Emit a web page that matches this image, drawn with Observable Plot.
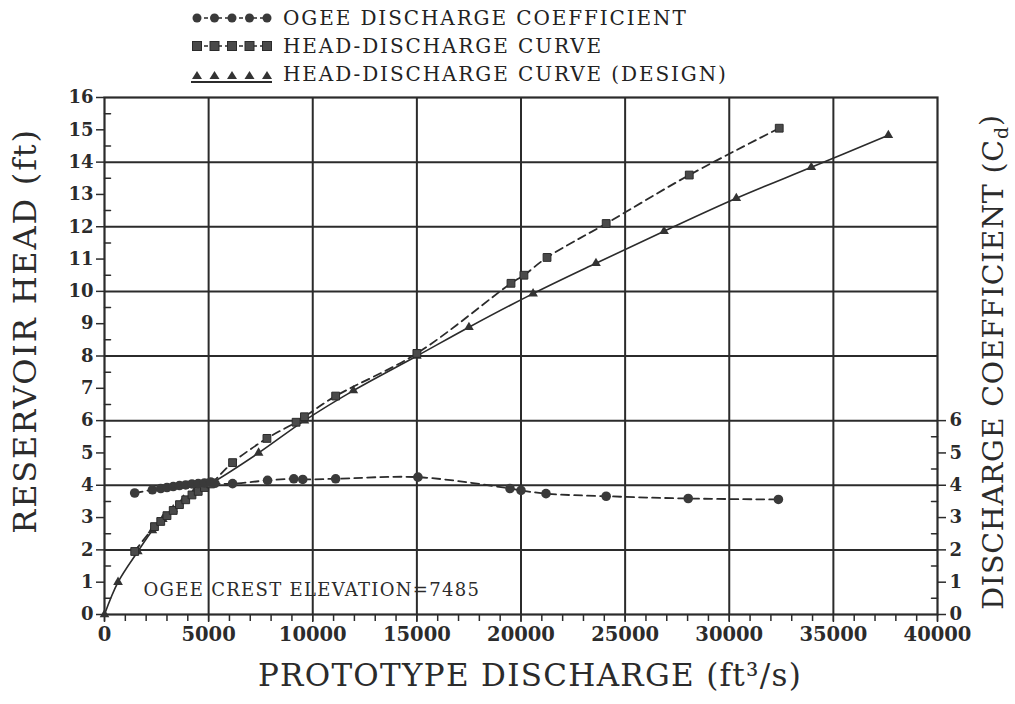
<!DOCTYPE html>
<html><head><meta charset="utf-8">
<script src="https://cdn.jsdelivr.net/npm/d3@7"></script>
<script src="https://cdn.jsdelivr.net/npm/@observablehq/plot@0.6"></script>
<style>
body{margin:0;background:#fff;}
#legend{height:84px;position:relative;font-family:"DejaVu Serif",serif;font-size:20px;letter-spacing:1.9px;color:#222;}
#legend .row{position:absolute;left:0;height:28px;width:800px;}
#legend .row span{position:absolute;left:283px;top:3px;line-height:22px;white-space:nowrap;}
#legend svg{position:absolute;left:188px;top:0;}
</style></head><body>
<div id="legend"></div>
<div id="chart"></div>
<script>
// Ogee discharge coefficient (right axis, Cd)
const coefQ  = [1450, 2300, 2700, 3000, 3300, 3600, 3900, 4200, 4500, 4800, 5100, 5300, 6150, 7830, 9090, 9520, 11100, 15050, 19470, 20000, 21200, 24090, 28030, 32360];
const coefCd = [3.76, 3.86, 3.90, 3.93, 3.96, 3.99, 4.01, 4.04, 4.05, 4.07, 4.10, 4.06, 4.05, 4.15, 4.20, 4.18, 4.20, 4.25, 3.90, 3.84, 3.74, 3.66, 3.59, 3.56];
// Measured head-discharge curve
const measQ = [1450, 2400, 2700, 3000, 3300, 3600, 3900, 4200, 4500, 4800, 5100, 6150, 7800, 9200, 9600, 11100, 15000, 19520, 20140, 21250, 24090, 28080, 32400];
const measH = [1.95, 2.72, 2.88, 3.06, 3.22, 3.40, 3.55, 3.70, 3.81, 3.93, 4.04, 4.70, 5.45, 5.95, 6.12, 6.76, 8.08, 10.25, 10.50, 11.05, 12.10, 13.60, 15.05];
// Design head-discharge curve
const designQ = [0, 650, 1600, 2300, 2800, 3300, 3800, 4300, 4800, 5100, 7400, 9600, 11950, 15000, 17500, 20580, 23600, 26870, 30340, 33940, 37640];
const designH = [0, 1.00, 1.95, 2.60, 2.95, 3.25, 3.55, 3.78, 3.95, 4.05, 5.00, 6.00, 6.93, 8.00, 8.89, 9.93, 10.87, 11.86, 12.88, 13.84, 14.83];

const xTicks = d3.range(0, 40001, 5000);
const xMinor = d3.range(0, 40001, 1000);
const leftTicks = d3.range(0, 17);
const leftMinor = d3.range(0.5, 16, 1);
const rightTicks = d3.range(0, 7);
const rightMinor = d3.range(0.5, 6, 1);
const gridXVals = d3.range(5000, 40000, 5000);
const gridYVals = d3.range(2, 16, 2);

const legendLabels = ["OGEE DISCHARGE COEFFICIENT", "HEAD-DISCHARGE CURVE", "HEAD-DISCHARGE CURVE (DESIGN)"];
const xLabel = "PROTOTYPE DISCHARGE (ft\u00B3/s)";
const yLabel = "RESERVOIR HEAD (ft)";
const y2Label = "DISCHARGE COEFFICIENT (Cd)";
const note = "OGEE CREST ELEVATION=7485";

const ink = "#2b2b2b";
const coef = coefQ.map((q, i) => ({q, v: coefCd[i]}));
const meas = measQ.map((q, i) => ({q, v: measH[i]}));
const design = designQ.map((q, i) => ({q, v: designH[i]}));

// Legend
const legend = d3.select("#legend");
const kinds = ["circle", "square", "triangle"];
legendLabels.forEach((lab, i) => {
  const row = legend.append("div").attr("class", "row").style("top", (4 + i * 28) + "px");
  const svg = row.append("svg").attr("width", 90).attr("height", 28);
  const xs = d3.range(5).map(k => 9 + k * 17.5);
  if (i < 2) {
    svg.append("line").attr("x1", 9).attr("x2", 79).attr("y1", 14).attr("y2", 14)
      .attr("stroke", ink).attr("stroke-width", 1.5).attr("stroke-dasharray", "4,3");
  } else {
    svg.append("line").attr("x1", 3).attr("x2", 84).attr("y1", 22).attr("y2", 22)
      .attr("stroke", ink).attr("stroke-width", 1.8);
  }
  xs.forEach(x => {
    if (kinds[i] === "circle") svg.append("circle").attr("cx", x).attr("cy", 14).attr("r", 4.5).attr("fill", "#3a3a3a");
    else if (kinds[i] === "square") svg.append("rect").attr("x", x - 4.5).attr("y", 9.5).attr("width", 9).attr("height", 9).attr("fill", "#4a4a4a").attr("stroke", ink);
    else svg.append("path").attr("d", `M${x},${11}L${x + 5},${19}L${x - 5},${19}Z`).attr("fill", "#333");
  });
  row.append("span").text(lab);
});

const tickFont = {fontFamily: "DejaVu Serif", fontSize: 18, fontWeight: "bold"};
const lineShape = {draw(context, l) { context.moveTo(0, 0); context.lineTo(0, -l); }};

const plot = Plot.plot({
  width: 1015, height: 620,
  marginTop: 13, marginBottom: 90, marginLeft: 104, marginRight: 78,
  x: {domain: [0, 40000]},
  y: {domain: [0, 16]},
  style: {fontFamily: "DejaVu Serif", fontSize: "18px", fontWeight: "bold", color: ink, background: "white"},
  marks: [
    Plot.gridX(gridXVals, {stroke: ink, strokeOpacity: 1, strokeWidth: 2}),
    Plot.gridY(gridYVals, {stroke: ink, strokeOpacity: 1, strokeWidth: 2}),
    Plot.axisX({ticks: xMinor, tickSize: 7, tickFormat: () => "", label: null, strokeWidth: 1.5}),
    Plot.axisX({ticks: xTicks, tickSize: 8, tickPadding: 5, tickFormat: d3.format("d"), label: null, strokeWidth: 1.5, fontFamily: "DejaVu Serif", fontSize: 19.5, fontWeight: "bold"}),
    Plot.axisY({ticks: leftTicks, tickSize: 8, tickPadding: 3, tickFormat: d3.format("d"), label: null, strokeWidth: 1.5, ...tickFont}),
    Plot.vector(leftMinor, {y: d => d, frameAnchor: "left", rotate: 90, length: 6, anchor: "start", shape: lineShape, stroke: ink, strokeWidth: 1.5}),
    Plot.axisY({anchor: "right", ticks: rightTicks, tickSize: 8, tickPadding: 4, tickFormat: d3.format("d"), label: null, strokeWidth: 1.5, ...tickFont}),
    Plot.vector(rightMinor, {y: d => d, frameAnchor: "right", rotate: -90, length: 6, anchor: "start", shape: lineShape, stroke: ink, strokeWidth: 1.5}),
    Plot.frame({stroke: ink, strokeWidth: 2.2}),
    Plot.text([note], {x: 1875, y: 0.74, textAnchor: "start", fontFamily: "DejaVu Serif", fontSize: 18, fontWeight: "normal", fill: ink}),
    // design curve
    Plot.line(design, {x: "q", y: "v", curve: "catmull-rom", stroke: ink, strokeWidth: 1.6}),
    Plot.dot(design, {x: "q", y: "v", symbol: "triangle", r: 3.6, fill: "#333", stroke: null}),
    // measured head-discharge
    Plot.line(meas, {x: "q", y: "v", curve: "catmull-rom", stroke: ink, strokeWidth: 1.8, strokeDasharray: "8,5"}),
    Plot.dot(meas, {x: "q", y: "v", symbol: "square", r: 4.4, fill: "#4a4a4a", stroke: ink, strokeWidth: 1}),
    // coefficient
    Plot.line(coef, {x: "q", y: "v", curve: "catmull-rom", stroke: ink, strokeWidth: 1.8, strokeDasharray: "8,5"}),
    Plot.dot(coef, {x: "q", y: "v", symbol: "circle", r: 4.8, fill: "#3a3a3a", stroke: null}),
    // axis titles
    Plot.text([yLabel], {frameAnchor: "left", textAnchor: "middle", dx: -79, dy: -25, rotate: -90, fontFamily: "DejaVu Serif", fontSize: 32, fontWeight: "normal", fill: ink}),
    Plot.text([y2Label], {frameAnchor: "right", textAnchor: "middle", dx: 56, dy: 6, rotate: -90, fontFamily: "DejaVu Serif", fontSize: 28.5, fontWeight: "normal", fill: ink}),
    Plot.text([xLabel], {frameAnchor: "bottom", textAnchor: "middle", dx: 9, dy: 71, fontFamily: "DejaVu Serif", fontSize: 31, fontWeight: "normal", fill: ink})
  ]
});
document.getElementById("chart").appendChild(plot);

const texts = d3.select(plot).selectAll("text");
texts.filter(function() { return this.textContent === xLabel; }).style("letter-spacing", "1.3px");
texts.filter(function() { return this.textContent === yLabel; }).style("letter-spacing", "1.8px");
texts.filter(function() { return this.textContent === note; }).style("letter-spacing", "1.3px");
// subscript d in right-axis title
texts.filter(function() { return this.textContent === y2Label; })
  .style("letter-spacing", "0.8px")
  .each(function() {
    const t = d3.select(this);
    t.text(null);
    t.append("tspan").text("DISCHARGE COEFFICIENT (C");
    t.append("tspan").attr("font-size", "19").attr("dy", "0.3em").text("d");
    t.append("tspan").attr("dy", "-0.3em").text(")");
  });
</script>
</body></html>
